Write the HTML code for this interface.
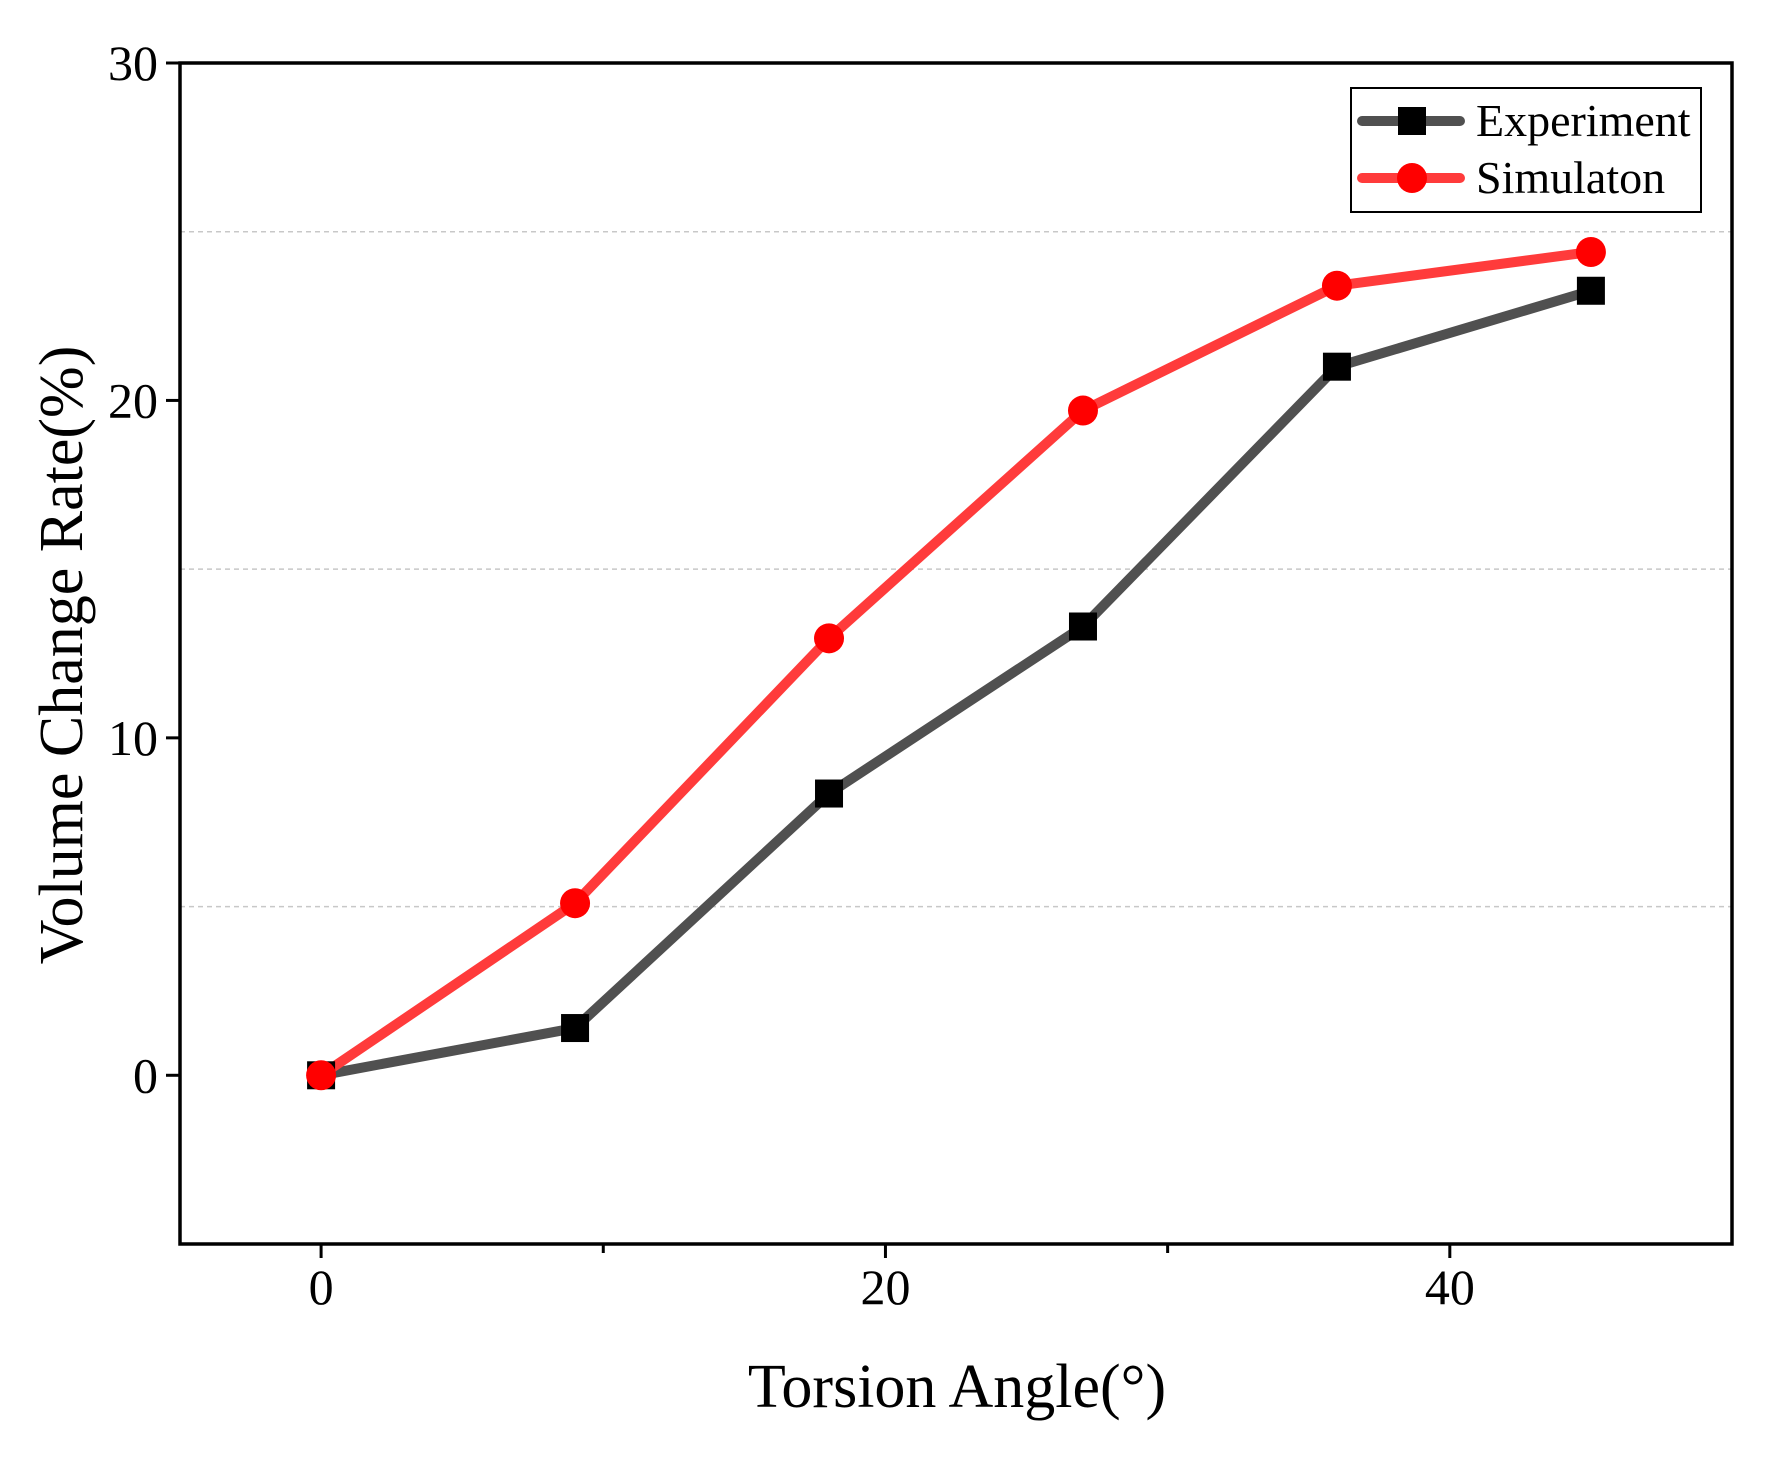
<!DOCTYPE html>
<html><head><meta charset="utf-8"><style>
html,body{margin:0;padding:0;background:#fff;}
svg{display:block;font-family:"Liberation Serif",serif;}
</style></head><body>
<svg width="1781" height="1458" viewBox="0 0 1781 1458">
<g id="grid"></g>
<g id="axes"></g>
<g id="series"></g>
<g id="legend">
  <rect x="1351" y="88" width="350" height="124" fill="#fff" stroke="#000" stroke-width="2"/>
  <g>
    <line x1="1362" y1="121" x2="1460" y2="121" stroke="#505050" stroke-width="10" stroke-linecap="round"/>
    <rect x="1398" y="107" width="28" height="28" fill="#000"/>
    <text x="1476" y="136" font-size="46">Experiment</text>
  </g>
  <g>
    <line x1="1362" y1="178" x2="1460" y2="178" stroke="#ff3b3b" stroke-width="10" stroke-linecap="round"/>
    <circle cx="1412" cy="178" r="15" fill="#ff0000"/>
    <text x="1476" y="193" font-size="46">Simulaton</text>
  </g>
</g>
<text x="957" y="1407" font-size="62" text-anchor="middle">Torsion Angle(°)</text>
<text transform="translate(82,655) rotate(-90)" font-size="62" text-anchor="middle">Volume Change Rate(%)</text>
</svg>
<script>
const xValues = [0, 9, 18, 27, 36, 45];
const experimentValues = [0, 1.4, 8.35, 13.3, 21.0, 23.25];
const simulationValues = [0, 5.1, 12.95, 19.7, 23.4, 24.4];
const xTicks = [0, 20, 40];
const xMinorTicks = [10, 30];
const yTicks = [0, 10, 20, 30];
const yGrid = [5, 15, 25];

const L=180,R=1732,T=63,B=1244;
const xMin=-5,xMax=50,yMin=-5,yMax=30;
function sx(v){return L+(v-xMin)/(xMax-xMin)*(R-L);}
function sy(v){return B-(v-yMin)/(yMax-yMin)*(B-T);}
const NS="http://www.w3.org/2000/svg";
function mk(tag,attrs,parent){const e=document.createElementNS(NS,tag);for(const k in attrs)e.setAttribute(k,attrs[k]);parent.appendChild(e);return e;}
const grid=document.getElementById('grid'),axes=document.getElementById('axes'),series=document.getElementById('series');
yGrid.forEach(v=>{
  const l=mk('line',{x1:L,x2:R,y1:sy(v),y2:sy(v),stroke:'#c8c8c8','stroke-width':1.5,'stroke-dasharray':'5,4'},grid);
  
  
});
const frame=mk('rect',{x:L,y:T,width:R-L,height:B-T,fill:'none',stroke:'#000','stroke-width':3.5},axes);


yTicks.forEach(v=>{
  const y=sy(v);
  mk('line',{x1:L-14,x2:L,y1:y,y2:y,stroke:'#000','stroke-width':3},axes);
  const t=mk('text',{x:L-22,y:y+17,'font-size':50,'text-anchor':'end'},axes);
  t.textContent=v;
  
  
});
xTicks.forEach(v=>{
  const x=sx(v);
  mk('line',{x1:x,x2:x,y1:B,y2:B+14,stroke:'#000','stroke-width':3},axes);
  const t=mk('text',{x:x,y:B+60,'font-size':50,'text-anchor':'middle'},axes);
  t.textContent=v;
  
  
});
xMinorTicks.forEach(v=>{
  const x=sx(v);
  mk('line',{x1:x,x2:x,y1:B,y2:B+9,stroke:'#000','stroke-width':3},axes);
});
function path(vals){return vals.map((v,i)=>(i?'L':'M')+sx(xValues[i])+','+sy(v)).join(' ');}
const pe=mk('path',{d:path(experimentValues),fill:'none',stroke:'#505050','stroke-width':10,'stroke-linejoin':'round','stroke-linecap':'round'},series);


const ps=mk('path',{d:path(simulationValues),fill:'none',stroke:'#ff3b3b','stroke-width':10,'stroke-linejoin':'round','stroke-linecap':'round'},series);


experimentValues.forEach((v,i)=>{
  const r=mk('rect',{x:sx(xValues[i])-14,y:sy(v)-14,width:28,height:28,fill:'#000'},series);
  
  
});
simulationValues.forEach((v,i)=>{
  const c=mk('circle',{cx:sx(xValues[i]),cy:sy(v),r:15,fill:'#ff0000'},series);
  
  
});
</script>
</body></html>
